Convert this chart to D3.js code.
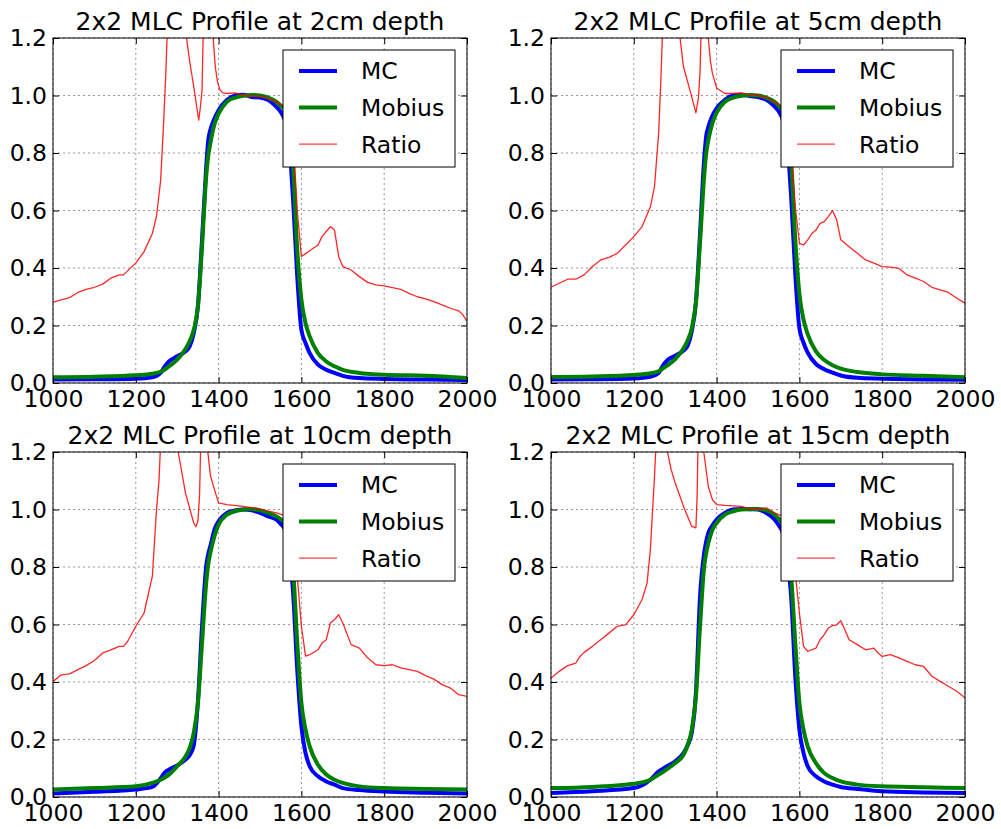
<!DOCTYPE html>
<html lang="en">
<head>
<meta charset="utf-8" />
<title>2x2 MLC Profile</title>
<script src="https://d3js.org/d3.v7.min.js"></script>
<style>
  body { margin: 0; background: #fff; }
  text { font-family: "DejaVu Sans", sans-serif; fill: #000; }
  .grid line { stroke: #9a9a9a; stroke-width: 1; stroke-dasharray: 2,3; }
  .ax line { stroke: #000; }
</style>
</head>
<body>
<script>
// ---- data ----
var titles = ["2x2 MLC Profile at 2cm depth", "2x2 MLC Profile at 5cm depth",
              "2x2 MLC Profile at 10cm depth", "2x2 MLC Profile at 15cm depth"];
var seriesNames = ["MC", "Mobius", "Ratio"];
var xTicks = [1000, 1200, 1400, 1600, 1800, 2000];
var yTicks = [0, 0.2, 0.4, 0.6, 0.8, 1.0, 1.2];

// shared positions for MC and Mobius profiles
var profileX = [1000,1100,1200,1240,1260,1270,1280,1300,1320,1330,1340,1350,1360,1370,1375,1380,1390,1400,1420,1440,
                1460,1480,1500,1520,1540,1550,1560,1570,1575,1580,1590,1600,1610,1620,1640,1660,1680,1700,1740,1800,1900,2000];

// 2cm
var mc2 = [0.012,0.013,0.015,0.02,0.035,0.058,0.075,0.093,0.11,0.127,0.174,0.266,0.5,0.75,0.845,0.88,0.92,0.949,0.984,1.0,
           1.003,0.995,0.993,0.984,0.96,0.943,0.914,0.845,0.75,0.636,0.37,0.185,0.139,0.104,0.064,0.046,0.035,0.025,0.017,0.014,0.012,0.01];
var mobius2 = [0.02,0.022,0.027,0.032,0.039,0.047,0.058,0.081,0.118,0.145,0.185,0.266,0.475,0.717,0.79,0.833,0.9,0.937,0.978,0.993,
           0.999,1.002,1.0,0.993,0.978,0.965,0.949,0.9,0.84,0.75,0.463,0.29,0.208,0.162,0.104,0.075,0.058,0.046,0.035,0.029,0.025,0.017];
var ratioX2 = [1000,1020,1040,1060,1080,1100,1120,1140,1160,1170,1180,1200,1220,1240,1250,1260,1266,1272,1278,1300,
           1318,1330,1340,1352,1356,1360,1364,1372,1380,1387,1392,1397,1403,1410,1420,1440,1460,1480,1500,1520,
           1540,1560,1570,1580,1590,1600,1610,1620,1640,1650,1660,1670,1680,1690,1700,1720,1740,1760,1780,1800,
           1820,1840,1860,1880,1900,1920,1940,1960,1980,1990,2000];
var ratio2 = [0.281,0.289,0.297,0.315,0.326,0.333,0.344,0.365,0.376,0.376,0.39,0.417,0.457,0.52,0.58,0.705,0.87,1.06,1.3,1.8,
           1.25,1.12,1.03,0.914,0.96,1.02,1.3,1.6,1.5,1.2,1.1,1.05,1.02,1.009,1.007,1.009,1.0,0.998,0.998,0.99,
           0.978,0.96,0.93,0.85,0.6,0.44,0.45,0.46,0.48,0.51,0.527,0.544,0.532,0.44,0.405,0.393,0.37,0.35,0.341,0.338,
           0.332,0.326,0.312,0.30,0.293,0.283,0.272,0.26,0.251,0.237,0.214];

// 5cm
var mc5 = [0.012,0.013,0.016,0.022,0.035,0.06,0.078,0.095,0.113,0.13,0.18,0.28,0.52,0.78,0.86,0.89,0.93,0.955,0.985,1.0,
           1.003,0.998,0.995,0.985,0.962,0.945,0.915,0.85,0.76,0.65,0.38,0.19,0.14,0.106,0.066,0.048,0.036,0.026,0.018,0.015,0.012,0.011];
var mobius5 = [0.021,0.023,0.028,0.034,0.041,0.05,0.06,0.083,0.12,0.148,0.19,0.28,0.49,0.72,0.8,0.845,0.905,0.94,0.978,0.993,
           0.999,1.002,1.0,0.993,0.978,0.965,0.947,0.9,0.85,0.77,0.5,0.31,0.22,0.17,0.11,0.08,0.062,0.05,0.038,0.03,0.025,0.02];
var ratioX5 = [1000,1020,1040,1060,1080,1100,1120,1140,1160,1180,1200,1220,1240,1250,1260,1265,1270,1290,1310,1320,
           1340,1350,1356,1360,1364,1372,1380,1385,1390,1400,1420,1440,1460,1480,1500,1520,1540,1560,1570,1580,
           1590,1600,1610,1620,1630,1640,1650,1660,1670,1680,1690,1700,1720,1740,1760,1780,1800,1820,1840,1860,
           1880,1900,1920,1940,1960,1980,2000];
var ratio5 = [0.333,0.347,0.361,0.361,0.376,0.405,0.428,0.437,0.451,0.48,0.509,0.544,0.613,0.683,0.868,1.04,1.25,1.8,1.22,1.1,
           0.995,0.94,0.99,1.08,1.3,1.6,1.2,1.12,1.076,1.026,1.007,1.007,1.009,1.003,1.0,0.993,0.978,0.96,0.926,0.81,
           0.613,0.486,0.48,0.498,0.52,0.532,0.555,0.561,0.579,0.6,0.567,0.498,0.474,0.451,0.428,0.417,0.405,0.403,0.399,0.376,
           0.365,0.353,0.333,0.324,0.315,0.295,0.278];

// 10cm
var mc10 = [0.012,0.018,0.026,0.035,0.065,0.085,0.095,0.11,0.13,0.145,0.18,0.33,0.594,0.802,0.845,0.872,0.93,0.959,0.988,0.997,
           1.0,0.997,0.988,0.976,0.965,0.95,0.93,0.86,0.8,0.71,0.443,0.246,0.153,0.107,0.072,0.054,0.043,0.031,0.024,0.019,0.015,0.012];
var mobius10 = [0.026,0.031,0.037,0.049,0.06,0.068,0.078,0.107,0.141,0.17,0.223,0.327,0.536,0.744,0.81,0.849,0.907,0.947,0.982,0.994,
           1.0,1.002,0.997,0.988,0.976,0.966,0.953,0.907,0.86,0.791,0.536,0.327,0.234,0.176,0.112,0.078,0.06,0.049,0.037,0.031,0.028,0.026];
var ratioX10 = [1000,1020,1040,1060,1080,1100,1120,1140,1160,1170,1180,1200,1220,1240,1250,1256,1262,1280,1300,1320,
           1340,1345,1350,1354,1358,1366,1374,1380,1390,1400,1420,1460,1500,1520,1540,1560,1570,1580,1590,1600,
           1610,1620,1640,1650,1660,1670,1680,1690,1700,1720,1740,1760,1780,1800,1820,1840,1860,1880,1900,1920,
           1940,1960,1980,2000];
var ratio10 = [0.402,0.425,0.428,0.443,0.457,0.475,0.501,0.512,0.524,0.524,0.541,0.594,0.64,0.768,0.999,1.1,1.3,1.8,1.22,1.057,
           0.953,0.94,0.959,1.05,1.3,1.6,1.2,1.12,1.069,1.023,1.017,1.011,1.002,0.994,0.988,0.979,0.965,0.907,0.768,0.594,
           0.49,0.495,0.512,0.536,0.547,0.605,0.617,0.634,0.605,0.53,0.518,0.484,0.46,0.457,0.46,0.449,0.443,0.437,0.422,0.41,
           0.391,0.379,0.356,0.35];

// 15cm
var mc15 = [0.014,0.02,0.031,0.06,0.089,0.098,0.107,0.124,0.153,0.18,0.223,0.362,0.698,0.849,0.89,0.918,0.945,0.965,0.988,1.0,
           1.002,1.001,1.0,0.988,0.965,0.945,0.918,0.849,0.78,0.698,0.42,0.234,0.153,0.107,0.072,0.054,0.043,0.035,0.028,0.02,0.016,0.014];
var mobius15 = [0.031,0.035,0.046,0.06,0.078,0.087,0.097,0.118,0.147,0.18,0.234,0.35,0.594,0.802,0.85,0.883,0.93,0.953,0.982,0.994,
           1.0,1.001,1.002,0.997,0.982,0.968,0.947,0.895,0.84,0.768,0.536,0.327,0.234,0.176,0.118,0.083,0.066,0.054,0.043,0.037,0.034,0.031];
var ratioX15 = [1000,1020,1040,1060,1070,1080,1100,1120,1140,1160,1180,1200,1220,1232,1240,1250,1256,1270,1280,1290,
           1300,1320,1340,1350,1353,1356,1362,1369,1380,1390,1400,1420,1460,1480,1500,1520,1540,1560,1570,1580,
           1590,1600,1610,1620,1640,1650,1660,1670,1680,1690,1700,1710,1720,1740,1760,1780,1790,1800,1820,1840,
           1860,1880,1900,1920,1940,1960,1980,2000];
var ratio15 = [0.414,0.437,0.457,0.466,0.489,0.503,0.524,0.547,0.57,0.594,0.599,0.634,0.687,0.744,0.86,1.115,1.3,1.8,1.21,1.14,
           1.092,1.011,0.941,0.936,1.05,1.3,1.6,1.2,1.08,1.034,1.017,1.014,1.011,1.002,1.0,1.006,0.988,0.976,0.959,0.918,
           0.78,0.64,0.524,0.507,0.518,0.547,0.565,0.588,0.596,0.599,0.613,0.582,0.547,0.53,0.512,0.518,0.501,0.489,0.495,0.484,
           0.472,0.46,0.454,0.42,0.402,0.385,0.368,0.345];

var panels = [
  { title: titles[0], mc: mc2, mobius: mobius2, rx: ratioX2, ratio: ratio2 },
  { title: titles[1], mc: mc5, mobius: mobius5, rx: ratioX5, ratio: ratio5 },
  { title: titles[2], mc: mc10, mobius: mobius10, rx: ratioX10, ratio: ratio10 },
  { title: titles[3], mc: mc15, mobius: mobius15, rx: ratioX15, ratio: ratio15 }
];

// ---- layout ----
var width = 1001, height = 829;
var plotW = 414, plotH = 345;
var lefts = [53, 551], tops = [38, 452];
var colors = { mc: "#0000ff", mobius: "#008000", ratio: "#ff0000" };
var fontSize = 23.5;

var svg = d3.select("body").append("svg")
    .attr("width", width)
    .attr("height", height)
    .style("display", "block");

svg.append("rect").attr("width", width).attr("height", height).attr("fill", "#fff");

var x = d3.scaleLinear().domain([1000, 2000]).range([0, plotW]);
var y = d3.scaleLinear().domain([0, 1.2]).range([plotH, 0]);

var smooth = d3.line().x(function (d) { return x(d[0]); }).y(function (d) { return y(d[1]); }).curve(d3.curveMonotoneX);
var jagged = d3.line().x(function (d) { return x(d[0]); }).y(function (d) { return y(d[1]); });

panels.forEach(function (p, i) {
    var g = svg.append("g")
        .attr("transform", "translate(" + lefts[i % 2] + "," + tops[Math.floor(i / 2)] + ")");

    g.append("clipPath").attr("id", "clip" + i)
        .append("rect").attr("width", plotW).attr("height", plotH);

    // grid
    var grid = g.append("g").attr("class", "grid");
    grid.selectAll(".gx").data(xTicks).enter().append("line")
        .attr("x1", function (d) { return x(d); }).attr("x2", function (d) { return x(d); })
        .attr("y1", 0).attr("y2", plotH);
    grid.selectAll(".gy").data(yTicks).enter().append("line")
        .attr("y1", function (d) { return y(d); }).attr("y2", function (d) { return y(d); })
        .attr("x1", 0).attr("x2", plotW);

    // lines
    var lines = g.append("g").attr("clip-path", "url(#clip" + i + ")");
    lines.append("path")
        .attr("d", smooth(profileX.map(function (v, k) { return [v, p.mc[k]]; })))
        .attr("fill", "none").attr("stroke", colors.mc).attr("stroke-width", 4)
        .attr("stroke-linejoin", "round");
    lines.append("path")
        .attr("d", smooth(profileX.map(function (v, k) { return [v, p.mobius[k]]; })))
        .attr("fill", "none").attr("stroke", colors.mobius).attr("stroke-width", 4)
        .attr("stroke-linejoin", "round");
    lines.append("path")
        .attr("d", jagged(p.rx.map(function (v, k) { return [v, p.ratio[k]]; })))
        .attr("fill", "none").attr("stroke", colors.ratio).attr("stroke-width", 1.3)
        .attr("stroke-opacity", 0.85).attr("stroke-linejoin", "round");

    // axes with inward ticks
    var ax = g.append("g").attr("class", "ax");
    ax.append("g").attr("transform", "translate(0," + plotH + ")")
        .call(d3.axisBottom(x).tickValues(xTicks).tickSize(-6).tickPadding(7).tickFormat(d3.format("d")));
    ax.append("g")
        .call(d3.axisLeft(y).tickValues(yTicks).tickSize(-6).tickPadding(6).tickFormat(d3.format(".1f")));
    ax.append("g").call(d3.axisTop(x).tickValues(xTicks).tickSize(-6).tickFormat(""));
    ax.append("g").attr("transform", "translate(" + plotW + ",0)")
        .call(d3.axisRight(y).tickValues(yTicks).tickSize(-6).tickFormat(""));
    ax.selectAll(".domain").remove();
    ax.selectAll("text").style("font-size", fontSize + "px").attr("font-family", "DejaVu Sans");

    g.append("rect").attr("width", plotW).attr("height", plotH)
        .attr("fill", "none").attr("stroke", "#000").attr("stroke-width", 1);

    // title
    g.append("text")
        .attr("x", plotW / 2).attr("y", -8)
        .attr("text-anchor", "middle")
        .style("font-size", "25px")
        .text(p.title);

    // legend
    var lg = g.append("g").attr("transform", "translate(" + (plotW - 184) + ",12)");
    lg.append("rect").attr("width", 172).attr("height", 117)
        .attr("fill", "#fff").attr("stroke", "#000").attr("stroke-width", 1);
    var keys = ["mc", "mobius", "ratio"];
    keys.forEach(function (k, j) {
        var cy = 21 + j * 36.6;
        lg.append("line").attr("x1", 16).attr("x2", 54).attr("y1", cy).attr("y2", cy)
            .attr("stroke", colors[k]).attr("stroke-width", k === "ratio" ? 1.3 : 4)
            .attr("stroke-opacity", k === "ratio" ? 0.75 : 1);
        lg.append("text").attr("x", 78).attr("y", cy).attr("dy", "0.36em")
            .style("font-size", fontSize + "px").text(seriesNames[j]);
    });
});
</script>
</body>
</html>
